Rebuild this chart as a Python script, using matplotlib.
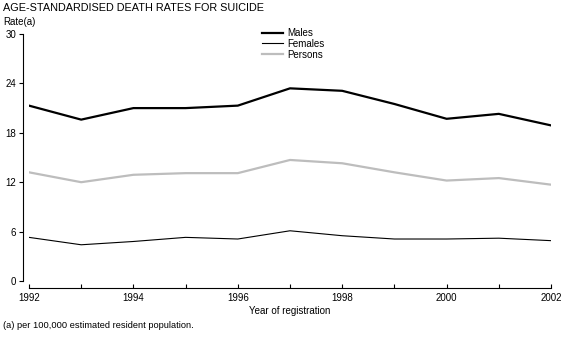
import matplotlib
matplotlib.use("Agg")
from matplotlib import pyplot as plt

years = [1992, 1993, 1994, 1995, 1996, 1997, 1998, 1999, 2000, 2001, 2002]
males = [21.3, 19.6, 21.0, 21.0, 21.3, 23.4, 23.1, 21.5, 19.7, 20.3, 18.9]
females = [5.3, 4.4, 4.8, 5.3, 5.1, 6.1, 5.5, 5.1, 5.1, 5.2, 4.9]
persons = [13.2, 12.0, 12.9, 13.1, 13.1, 14.7, 14.3, 13.2, 12.2, 12.5, 11.7]
y_ticks = [0, 6, 12, 18, 24, 30]
x_ticks = [1992, 1993, 1994, 1995, 1996, 1997, 1998, 1999, 2000, 2001, 2002]
x_labels = ['1992', '', '1994', '', '1996', '', '1998', '', '2000', '', '2002']

plt.rcParams['font.family'] = ['Liberation Sans', 'DejaVu Sans']
plt.rcParams['font.size'] = 7

fig = plt.figure(figsize=(5.67, 3.4), dpi=100)
ax = fig.add_axes([29 / 567, 1 - 281 / 340, (551 - 29) / 567, (281 - 34) / 340])

ax.plot(years, males, color='black', lw=1.6, label='Males')
ax.plot(years, females, color='black', lw=0.8, label='Females')
ax.plot(years, persons, color='#bdbdbd', lw=1.6, label='Persons')

ax.set_xlim(1992, 2002)
ax.set_ylim(0, 30)
ax.set_yticks(y_ticks)
ax.set_xticks(x_ticks)
ax.set_xticklabels(x_labels)

for s in ['top', 'right']:
    ax.spines[s].set_visible(False)
ax.spines['bottom'].set_position(('outward', 5))
ax.spines['left'].set_position(('outward', 4.3))
for s in ['bottom', 'left']:
    ax.spines[s].set_linewidth(0.8)
ax.tick_params(axis='y', direction='out', length=3, width=0.8, pad=2, labelsize=7)
ax.tick_params(axis='x', direction='in', length=3, width=0.8, pad=3.5, labelsize=7)

ax.set_xlabel('Year of registration', fontsize=7, labelpad=2.5)

leg = fig.legend(loc='upper left', bbox_to_anchor=(262 / 567, 1 - 28 / 340), frameon=False,
                 handlelength=2.2, handletextpad=0.4, labelspacing=0.08,
                 borderpad=0, borderaxespad=0, fontsize=7)

fig.text(0.005, 1 - 8 / 340, 'AGE-STANDARDISED DEATH RATES FOR SUICIDE', fontsize=7.8, va='center')
fig.text(0.005, 1 - 22 / 340, 'Rate(a)', fontsize=7, va='center')
fig.text(0.005, 1 - 325 / 340, '(a) per 100,000 estimated resident population.', fontsize=6.7, va='center')

fig.savefig('out.png', dpi=100)
